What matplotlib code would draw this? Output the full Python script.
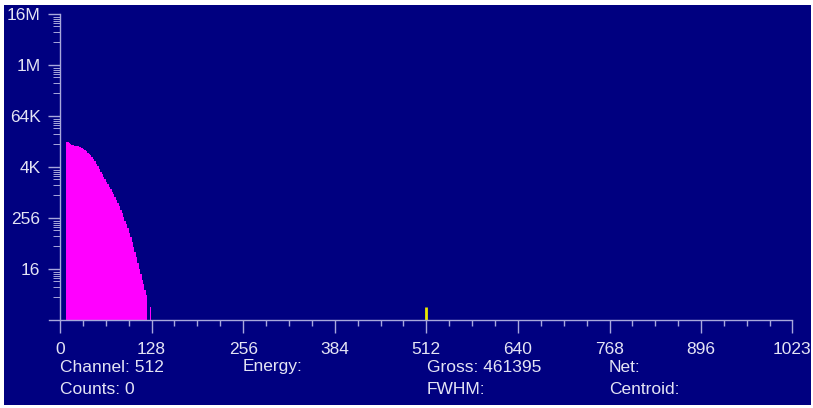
import matplotlib
matplotlib.use('Agg')
import matplotlib.pyplot as plt
from matplotlib.patches import Rectangle

plt.rcParams['font.family'] = ['Liberation Sans', 'DejaVu Sans']

# DATOS (canales agrupados de 2 en 2)
bin_start = 8
bin_width = 2
counts = [15800, 15600, 15200, 14600, 13800, 13300, 12900, 12700, 12500, 12300,
          12000, 11500, 10900, 10300, 9700, 9000, 8300, 7700, 7000, 6300,
          5600, 4900, 4300, 3700, 3150, 2750, 2400, 2100, 1850, 1600,
          1400, 1220, 1080, 940, 810, 690, 580, 480, 400, 330,
          270, 220, 180, 145, 115, 92, 70, 52, 40, 30,
          22, 16, 12, 9, 7, 5, 4]
spike_edges = [125.5, 126.5]
spike_counts = [2]
cursor_channel = 512

xticks = [0, 128, 256, 384, 512, 640, 768, 896, 1023]
xminor = [32, 64, 96, 160, 192, 224, 288, 320, 352, 416, 448, 480, 544, 576, 608,
          672, 704, 736, 800, 832, 864, 928, 960, 992]
yticks = [16, 256, 4096, 65536, 1048576, 16777216]
ytick_labels = ['16', '256', '4K', '64K', '1M', '16M']
# posicion de las marcas menores bajo cada marca mayor (fraccion de un factor 16)
yminor_frac = [0.053, 0.098, 0.137, 0.182, 0.229, 0.353, 0.555]

info = [('Channel: 512', 60, 367), ('Energy:', 243, 367), ('Gross: 461395', 427, 367),
        ('Net:', 609, 367), ('Counts: 0', 60, 389), ('FWHM:', 427, 389),
        ('Centroid:', 609, 389)]

# COLORES
navy = '#000080'
axis_col = '#a8a8dc'
text_col = '#e4e4f4'
fsize = 12.5

W, H = 813, 408
fig = plt.figure(figsize=(W / 100, H / 100), dpi=100, facecolor='white')
fig.patches.append(Rectangle((4 / W, 3 / H), 807 / W, 400 / H, transform=fig.transFigure,
                             facecolor=navy, edgecolor='none', zorder=-5))

ax = fig.add_axes([60 / W, (H - 320) / H, 732 / W, 306 / H])
ax.set_facecolor(navy)
ax.patch.set_alpha(0)

edges = [bin_start + i * bin_width for i in range(len(counts) + 1)]
ax.stairs(counts, edges, fill=True, baseline=1, color='#ff00ff', linewidth=0)
ax.stairs(spike_counts, spike_edges, fill=True, baseline=1, color='#ff00ff', linewidth=0)
ax.vlines(cursor_channel, 1, 2.03, color='#e8e800', linewidth=2)

ax.set_yscale('log', base=2)
ax.set_xlim(0, 1023)
ax.set_ylim(1, 16777216)

for s in ax.spines.values():
    s.set_visible(False)
ax.plot([-0.015, 1], [0, 0], transform=ax.transAxes, color=axis_col, lw=1.0, clip_on=False)
ax.plot([0, 0], [0, 1], transform=ax.transAxes, color=axis_col, lw=1.0, clip_on=False)

ax.set_xticks(xticks)
ax.set_xticklabels([str(t) for t in xticks])
ax.set_xticks(xminor, minor=True)
ax.set_yticks(yticks)
ax.set_yticklabels(ytick_labels)
minors = []
for m in yticks:
    for f in yminor_frac:
        minors.append(m * 2 ** (-4 * f))
ax.set_yticks(minors, minor=True)
ax.yaxis.set_minor_formatter(matplotlib.ticker.NullFormatter())

ax.tick_params(axis='x', which='major', direction='out', length=9.5, width=1.0,
               color=axis_col, labelcolor=text_col, labelsize=fsize, pad=6)
ax.tick_params(axis='x', which='minor', direction='out', length=4.3, width=1.0,
               color=axis_col)
ax.tick_params(axis='y', which='major', direction='out', length=8.6, width=1.0,
               color=axis_col, labelcolor=text_col, labelsize=fsize, pad=5.5)
ax.tick_params(axis='y', which='minor', direction='out', length=5, width=0.7,
               color=axis_col)

for txt, x, y in info:
    fig.text(x / W, 1 - y / H, txt, color=text_col, fontsize=fsize, ha='left', va='center')

fig.savefig('out.png', dpi=100, facecolor='white')
